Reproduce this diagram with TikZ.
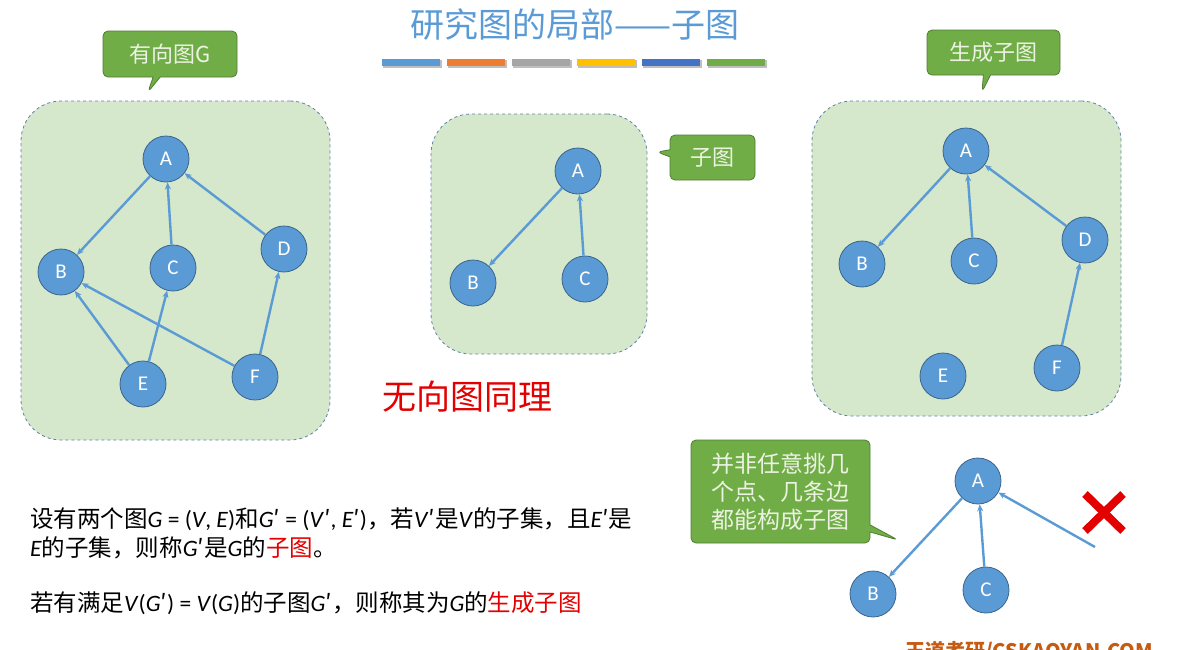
\documentclass[tikz,border=0pt]{standalone}
\usepackage{fontspec}
\setmainfont{Carlito}
\newfontfamily\cjk{Noto Sans CJK SC}
\usepackage{xcolor}
\usetikzlibrary{positioning,arrows.meta,shapes.callouts}
\definecolor{NodeBlue}{RGB}{91,155,213}
\definecolor{NodeLine}{RGB}{58,100,140}
\definecolor{BoxGreen}{RGB}{213,232,203}
\definecolor{BoxLine}{RGB}{96,130,168}
\definecolor{TagGreen}{RGB}{112,173,71}
\definecolor{TagLine}{RGB}{80,126,50}
\definecolor{TagText}{RGB}{236,243,226}
\definecolor{BarOrange}{RGB}{237,125,49}
\definecolor{BarGray}{RGB}{165,165,165}
\definecolor{BarGold}{RGB}{255,192,0}
\definecolor{BarBlue}{RGB}{68,114,196}
\definecolor{WarnRed}{RGB}{226,0,0}
\definecolor{MarkBrown}{RGB}{197,90,17}
\newcommand\pr{{\cjk ′}}
\tikzset{
    vnode/.style={circle, draw=NodeLine, fill=NodeBlue, text=white, thick, minimum size=46pt, inner sep=0pt, font=\fontsize{21}{21}\selectfont},
    graphbox/.style={draw=BoxLine, fill=BoxGreen, dashed, thick, rounded corners=40pt, inner sep=0pt},
    tag/.style={rectangle callout, draw=TagLine, fill=TagGreen, text=TagText, thick, rounded corners=5pt, inner sep=0pt, font=\cjk\fontsize{22}{22}\selectfont},
    arc/.style={draw=NodeBlue, line width=2.4pt, -{Stealth[length=7pt,width=6pt]}},
    bar/.style={minimum width=58pt, minimum height=7pt, inner sep=0pt},
    deftext/.style={anchor=base west, font=\fontsize{23.5}{23.5}\selectfont, inner sep=0pt}
}

\begin{document}
\begin{tikzpicture}[x=1pt, y=-1pt]
    \useasboundingbox (0,0) rectangle (1184,649);
    % 标题与色条
    \node[text=NodeBlue, font=\cjk\fontsize{34}{34}\selectfont] (title) at (575,25) {研究图的局部——子图};
    \fill[black!25] (383,60) rectangle (442,68);
    \fill[black!25] (448,60) rectangle (507,68);
    \fill[black!25] (513,60) rectangle (572,68);
    \fill[black!25] (578,60) rectangle (637,68);
    \fill[black!25] (643,60) rectangle (702,68);
    \fill[black!25] (708,60) rectangle (767,68);
    \node[bar, fill=NodeBlue] (bar1) at (411,62) {};
    \node[bar, fill=BarOrange] (bar2) at (476,62) {};
    \node[bar, fill=BarGray] (bar3) at (541,62) {};
    \node[bar, fill=BarGold] (bar4) at (606,62) {};
    \node[bar, fill=BarBlue] (bar5) at (671,62) {};
    \node[bar, fill=TagGreen] (bar6) at (736,62) {};

    % 有向图G
    \node[graphbox, minimum width=309pt, minimum height=339pt] (boxG) at (175.5,270.5) {};
    \node[tag, minimum width=134pt, minimum height=46pt, callout absolute pointer={(148,92)}] (tagG) at (170,54) {有向图G};
    \node[vnode] (A1) at (166,159) {A};
    \node[vnode] (B1) at (61,272) {B};
    \node[vnode] (C1) at (173,268) {C};
    \node[vnode] (D1) at (284,249) {D};
    \node[vnode] (E1) at (143,384) {E};
    \node[vnode] (F1) at (255,377) {F};
    \draw[arc] (A1) -- (B1);
    \draw[arc] (C1) -- (A1);
    \draw[arc] (D1) -- (A1);
    \draw[arc] (E1) -- (B1);
    \draw[arc] (E1) -- (C1);
    \draw[arc] (F1) -- (B1);
    \draw[arc] (F1) -- (D1);

    % 子图
    \node[graphbox, minimum width=216pt, minimum height=240pt] (boxS) at (539,234) {};
    \node[tag, minimum width=85pt, minimum height=45pt, callout absolute pointer={(657,152)}] (tagS) at (712.5,157.5) {子图};
    \node[vnode] (A2) at (578,171) {A};
    \node[vnode] (B2) at (473,283) {B};
    \node[vnode] (C2) at (585,279) {C};
    \draw[arc] (A2) -- (B2);
    \draw[arc] (C2) -- (A2);

    % 生成子图
    \node[graphbox, minimum width=309pt, minimum height=315pt] (boxT) at (966.5,258.5) {};
    \node[tag, minimum width=133pt, minimum height=45pt, callout absolute pointer={(982,92)}] (tagT) at (993.5,52.5) {生成子图};
    \node[vnode] (A3) at (966,151) {A};
    \node[vnode] (B3) at (862,264) {B};
    \node[vnode] (C3) at (974,261) {C};
    \node[vnode] (D3) at (1085,240) {D};
    \node[vnode] (E3) at (943,376) {E};
    \node[vnode] (F3) at (1057,368) {F};
    \draw[arc] (A3) -- (B3);
    \draw[arc] (C3) -- (A3);
    \draw[arc] (D3) -- (A3);
    \draw[arc] (F3) -- (D3);

    \node[text=WarnRed, font=\cjk\fontsize{34}{34}\selectfont] (undir) at (467,397) {无向图同理};

    % 反例
    \node[tag, minimum width=179pt, minimum height=103pt, align=center, font=\cjk\fontsize{23}{28}\selectfont, callout absolute pointer={(898,540)}] (tagX) at (780.5,491.5) {并非任意挑几\\个点、几条边\\都能构成子图};
    \node[vnode] (A4) at (978,481) {A};
    \node[vnode] (B4) at (873,594) {B};
    \node[vnode] (C4) at (986,590) {C};
    \coordinate (loose) at (1095,547);
    \draw[arc] (A4) -- (B4);
    \draw[arc] (C4) -- (A4);
    \draw[arc] (loose) -- (A4);
    \draw[WarnRed, line width=8pt] (1085,494) -- (1123,531);
    \draw[WarnRed, line width=8pt] (1123,494) -- (1085,531);

    % 定义
    \node[deftext] (def1) at (30,527)
        {{\cjk 设有两个图}\textit{G} = (\textit{V}, \textit{E}){\cjk 和}\textit{G}\pr{} = (\textit{V}\pr, \textit{E}\pr){\cjk ，若}\textit{V}\pr{\cjk 是}\textit{V}{\cjk 的子集，且}\textit{E}\pr{\cjk 是}};
    \node[deftext] (def2) at (30,556)
        {\textit{E}{\cjk 的子集，则称}\textit{G}\pr{\cjk 是}\textit{G}{\cjk 的\textcolor{WarnRed}{子图}。}};
    \node[deftext] (def3) at (30,611)
        {{\cjk 若有满足}\textit{V}(\textit{G}\pr) = \textit{V}(\textit{G}){\cjk 的子图}\textit{G}\pr{\cjk ，则称其为}\textit{G}{\cjk 的\textcolor{WarnRed}{生成子图}}};

    \node[anchor=north west, text=MarkBrown, font=\cjk\bfseries\fontsize{20}{20}\selectfont, inner sep=0pt] (mark) at (905,641) {王道考研/CSKAOYAN.COM};
\end{tikzpicture}
\end{document}
